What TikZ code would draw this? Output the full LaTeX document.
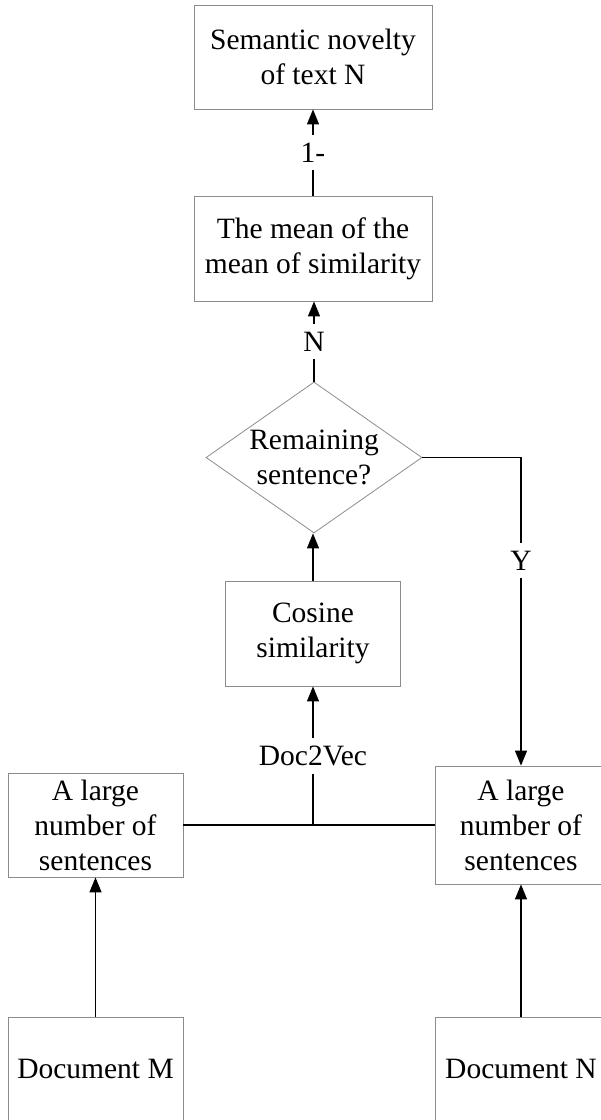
\documentclass[tikz,border=0pt]{standalone}
\usepackage{fontspec}
\setmainfont{Liberation Serif}
\usepackage{tikz}
\usetikzlibrary{shapes.geometric,arrows.meta}
\definecolor{boxgray}{gray}{0.55}
\tikzstyle{block}=[draw=boxgray, line width=0.8pt, text=black, inner sep=0pt, align=center, font=\fontsize{29.5}{35}\selectfont]
\tikzstyle{decide}=[block, diamond, aspect=1.43, minimum width=216pt, minimum height=151pt]
\tikzstyle{flow}=[line width=1.3pt, -{Triangle[length=15pt,width=12pt]}]
\tikzstyle{tag}=[fill=white, inner xsep=2pt, inner ysep=8pt, font=\fontsize{29.5}{35}\selectfont]

\begin{document}
\begin{tikzpicture}[x=1pt,y=-1pt]%

	\useasboundingbox (0,0) rectangle (601,1120);

	\begin{scope}
		\draw  (313,57)    node (Box_Novelty) [block, minimum width=238pt, minimum height=104pt]  {Semantic novelty\\of text N};
		\draw  (313,248.5) node (Box_Mean)    [block, minimum width=238pt, minimum height=105pt]  {The mean of the\\mean of similarity};
		\draw  (314,457.5) node (Box_Remain)  [decide]  {Remaining\\sentence?};
		\draw  (313,633.5) node (Box_Cosine)  [block, minimum width=175pt, minimum height=105pt]  {Cosine\\similarity};
		\draw  (95.5,825)  node (Box_SentM)   [block, minimum width=175pt, minimum height=104pt]  {A large\\number of\\sentences};
		\draw  (521,825)   node (Box_SentN)   [block, minimum width=172pt, minimum height=118pt]  {A large\\number of\\sentences};
		\draw  (95.5,1069) node (Box_DocM)    [block, minimum width=175pt, minimum height=104pt]  {Document M};
		\draw  (521,1069)  node (Box_DocN)    [block, minimum width=172pt, minimum height=104pt]  {Document N};

		\coordinate (Split) at (Box_Cosine.south |- Box_SentM.east);

		\draw [flow] (Box_Mean) -- node[tag] {1-} (Box_Novelty);
		\draw [flow] (Box_Remain.north) -- node[tag] {N} (Box_Remain.north |- Box_Mean.south);
		\draw [flow] (Box_Cosine.north) -- (Box_Cosine.north |- Box_Remain.south);
		\draw [flow] (Box_Remain.east) -| node[tag, pos=0.667] {Y} (Box_SentN.north);

		\draw [line width=1.3pt] (Box_SentM.east) -- (Box_SentN.west);
		\draw [flow] (Split) -- node[tag] {Doc2Vec} (Box_Cosine.south);

		\draw [flow] (Box_DocM) -- (Box_SentM);
		\draw [flow] (Box_DocN) -- (Box_SentN);
	\end{scope}

\end{tikzpicture}
\end{document}
